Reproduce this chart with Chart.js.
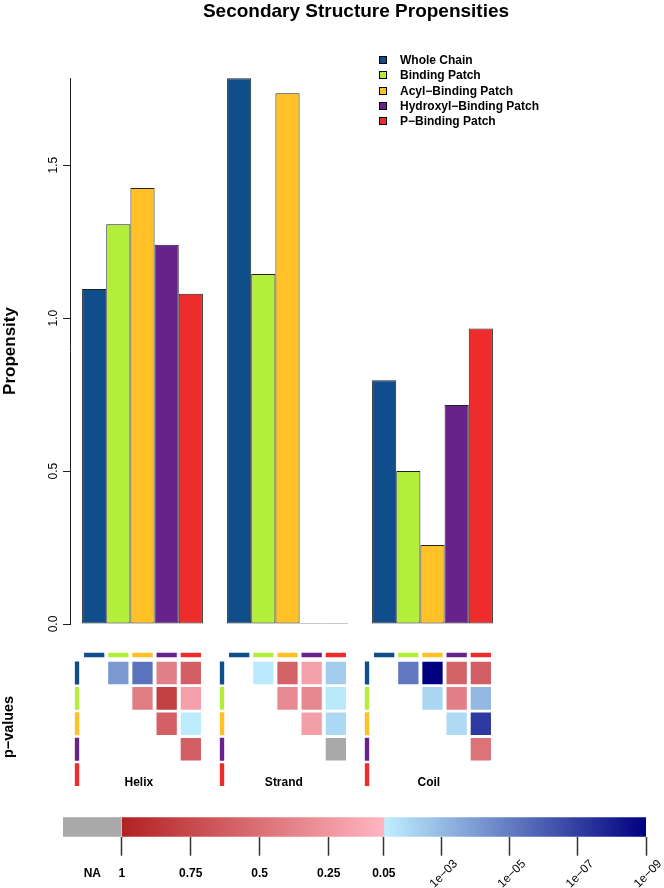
<!DOCTYPE html>
<html>
<head>
<meta charset="utf-8">
<script src="https://cdn.jsdelivr.net/npm/chart.js@4.4.1/dist/chart.umd.min.js"></script>
<style>
  body { margin: 0; background: #fff; }
  #wrap { position: relative; width: 664px; height: 888px; }
  #wrap canvas { position: absolute; left: 0; top: 0; }
</style>
</head>
<body>
<div id="wrap">
  <canvas id="bars" width="664" height="888"></canvas>
  <canvas id="pvals" width="664" height="888"></canvas>
  <canvas id="key" width="664" height="888"></canvas>
</div>
<script>
const groups = ['Helix', 'Strand', 'Coil'];
const seriesNames = ['Whole Chain', 'Binding Patch', 'Acyl\u2212Binding Patch',
    'Hydroxyl\u2212Binding Patch', 'P\u2212Binding Patch'];
const seriesColors = ['#104E8B', '#B3EE3A', '#FFC125', '#68228B', '#EE2C2C'];

// propensity per group (Helix, Strand, Coil)
const wholeChain = [1.095, 1.784, 0.797];
const bindingPatch = [1.307, 1.144, 0.500];
const acylPatch = [1.425, 1.735, 0.258];
const hydroxylPatch = [1.240, 0, 0.716];
const pPatch = [1.080, 0, 0.966];
const yTicks = [0, 0.5, 1.0, 1.5];

// p-values, upper triangle in order (0,1) (0,2) (0,3) (0,4) (1,2) (1,3) (1,4) (2,3) (2,4) (3,4)
const helixP = [8e-5, 4.7e-6, 0.40, 0.61, 0.42, 0.81, 0.19, 0.60, 0.04, 0.61];
const strandP = [0.035, 0.58, 0.19, 0.004, 0.33, 0.345, 0.03, 0.20, 0.009, null];
const coilP = [7.4e-6, 1e-9, 0.58, 0.61, 0.0078, 0.40, 8.5e-4, 0.0105, 7.4e-8, 0.48];

// colour key ticks
const redTicks = [1, 0.75, 0.5, 0.25, 0.05];
const blueTicks = [1e-3, 1e-5, 1e-7, 1e-9];
const blueLabels = ['1e\u221203', '1e\u221205', '1e\u221207', '1e\u221209'];

const FONT = '"Liberation Sans", Arial, Helvetica, sans-serif';
Chart.defaults.font.family = FONT;
Chart.defaults.color = '#000';

const FIRE = [178, 34, 34], PINK = [255, 182, 193], LIGHT = [191, 239, 255], NAVY = [0, 0, 128];
const LOG05 = Math.log10(0.05);

// 0..1 = red half (linear in p), 1..2 = blue half (log p)
function keyPos(p) {
    if (p >= 0.05) return (1 - p) / 0.95;
    return 1 + Math.min(1, (LOG05 - Math.log10(p)) / (LOG05 + 9));
}
function mix(a, b, t) {
    return 'rgb(' + a.map((v, k) => Math.round(v + (b[k] - v) * t)).join(',') + ')';
}
function pColor(p) {
    if (p === null) return '#A9A9A9';
    const s = keyPos(p);
    return s <= 1 ? mix(FIRE, PINK, s) : mix(LIGHT, NAVY, s - 1);
}

// ---------- bar chart ----------
const barPlugin = {
    id: 'barText',
    afterDraw(chart) {
        const ctx = chart.ctx;
        ctx.save();
        ctx.fillStyle = '#000';
        ctx.textBaseline = 'middle';
        ctx.textAlign = 'center';
        ctx.font = 'bold 19px ' + FONT;
        ctx.fillText('Secondary Structure Propensities', 356, 12);
        ctx.font = 'bold 12px ' + FONT;
        ctx.textAlign = 'left';
        chart.data.datasets.forEach((ds, k) => {
            const y = Math.round(60 + k * 15.3);
            ctx.fillStyle = ds.backgroundColor;
            ctx.fillRect(379, y - 4, 8, 8);
            ctx.strokeStyle = '#000';
            ctx.lineWidth = 1;
            ctx.strokeRect(379.5, y - 3.5, 7, 7);
            ctx.fillStyle = '#000';
            ctx.fillText(ds.label, 400, y + 1);
        });
        ctx.restore();
    }
};

new Chart(document.getElementById('bars'), {
    type: 'bar',
    data: {
        labels: groups,
        datasets: [wholeChain, bindingPatch, acylPatch, hydroxylPatch, pPatch].map((vals, k) => ({
            label: seriesNames[k],
            data: vals,
            backgroundColor: seriesColors[k],
            borderColor: '#222',
            borderWidth: 1,
            borderSkipped: false,
            minBarLength: 1,
            categoryPercentage: 5 / 6,
            barPercentage: 1
        }))
    },
    options: {
        responsive: false,
        animation: false,
        layout: { padding: { left: 0, right: 159, top: 78, bottom: 264 } },
        plugins: { legend: { display: false }, tooltip: { enabled: false } },
        scales: {
            x: { display: false },
            y: {
                min: 0,
                max: 1.785,
                afterFit: s => { s.width = 70; },
                afterBuildTicks: s => { s.ticks = yTicks.map(v => ({ value: v })); },
                border: { display: true, color: '#222' },
                grid: { drawOnChartArea: false, tickLength: 7, tickColor: '#222' },
                ticks: {
                    callback: v => v.toFixed(1),
                    minRotation: 90, maxRotation: 90,
                    crossAlign: 'center', padding: 1,
                    font: { size: 12 }, color: '#000'
                },
                title: {
                    display: true, text: 'Propensity', padding: 0,
                    font: { size: 17, weight: 'bold' }, color: '#000'
                }
            }
        }
    },
    plugins: [barPlugin]
});

// ---------- p-value matrices ----------
const pairs = [];
for (let i = 0; i < 5; i++) for (let j = i + 1; j < 5; j++) pairs.push([i, j]);

const cellData = [], cellColors = [];
[helixP, strandP, coilP].forEach((tab, g) => {
    pairs.forEach(([i, j], n) => {
        cellData.push({ x: 6 * g + j + 1, y: [i - 0.445, i + 0.445] });
        cellColors.push(pColor(tab[n]));
    });
});
const headData = [], headColors = [], rowData = [], rowColors = [];
groups.forEach((name, g) => {
    for (let k = 0; k < 5; k++) {
        headData.push({ x: 6 * g + k + 1, y: [-0.8, -0.62] });
        headColors.push(seriesColors[k]);
        rowData.push({ x: 6 * g + 0.29, y: [k - 0.45, k + 0.45] });
        rowColors.push(seriesColors[k]);
    }
});

const matrixPlugin = {
    id: 'matrixText',
    afterDraw(chart) {
        const ctx = chart.ctx;
        const { x, y } = chart.scales;
        ctx.save();
        ctx.fillStyle = '#000';
        ctx.textAlign = 'center';
        ctx.textBaseline = 'middle';
        ctx.font = 'bold 12px ' + FONT;
        groups.forEach((name, g) => {
            ctx.fillText(name, x.getPixelForValue(6 * g + 2.85), y.getPixelForValue(4.3));
        });
        ctx.font = 'bold 14.4px ' + FONT;
        ctx.translate(9.5, 727);
        ctx.rotate(-Math.PI / 2);
        ctx.fillText('p\u2212values', 0, 0);
        ctx.restore();
    }
};

new Chart(document.getElementById('pvals'), {
    type: 'bar',
    data: {
        datasets: [
            { data: cellData, backgroundColor: cellColors, barPercentage: 0.84 },
            { data: headData, backgroundColor: headColors, barPercentage: 0.84 },
            { data: rowData, backgroundColor: rowColors, barPercentage: 0.03, xAxisID: 'x2' }
        ]
    },
    options: {
        responsive: false,
        animation: false,
        datasets: { bar: { grouped: false, categoryPercentage: 1, borderWidth: 0 } },
        layout: { padding: { left: 70, right: 159, top: 647.6, bottom: 88 } },
        plugins: { legend: { display: false }, tooltip: { enabled: false } },
        scales: {
            x: { type: 'linear', min: 0, max: 18, offset: false, display: false, ticks: { stepSize: 1 } },
            x2: { type: 'linear', axis: 'x', min: 0, max: 18, offset: false, display: false, ticks: { stepSize: 6 } },
            y: { type: 'linear', min: -1, max: 5, reverse: true, display: false }
        }
    },
    plugins: [matrixPlugin]
});

// ---------- colour key ----------
function ramp(chart, from, to, a, b) {
    const x = chart.scales.x;
    if (!chart.chartArea || !x) return mix(from, to, 0.5);
    const grad = chart.ctx.createLinearGradient(x.getPixelForValue(a), 0, x.getPixelForValue(b), 0);
    grad.addColorStop(0, mix(from, to, 0));
    grad.addColorStop(1, mix(from, to, 1));
    return grad;
}

const keyTicks = redTicks.concat(blueTicks);
const NA_W = 0.224;

const keyPlugin = {
    id: 'keyText',
    afterDraw(chart) {
        const ctx = chart.ctx;
        const x = chart.scales.x;
        ctx.save();
        ctx.fillStyle = '#000';
        ctx.textBaseline = 'middle';
        ctx.textAlign = 'center';
        ctx.font = 'bold 12px ' + FONT;
        ctx.fillText('NA', x.getPixelForValue(-NA_W / 2), 874);
        redTicks.forEach(p => ctx.fillText(String(p), x.getPixelForValue(keyPos(p)), 874));
        ctx.font = '12px ' + FONT;
        ctx.textAlign = 'right';
        blueTicks.forEach((p, k) => {
            ctx.save();
            ctx.translate(x.getPixelForValue(keyPos(p)) + 14, 862);
            ctx.rotate(-Math.PI / 4);
            ctx.fillText(blueLabels[k], 0, 0);
            ctx.restore();
        });
        ctx.restore();
    }
};

new Chart(document.getElementById('key'), {
    type: 'bar',
    data: {
        labels: [''],
        datasets: [
            { data: [[-NA_W, 0]], backgroundColor: '#A9A9A9' },
            { data: [[0, 1]], backgroundColor: c => ramp(c.chart, FIRE, PINK, 0, 1) },
            { data: [[1, 2]], backgroundColor: c => ramp(c.chart, LIGHT, NAVY, 1, 2) }
        ]
    },
    options: {
        indexAxis: 'y',
        responsive: false,
        animation: false,
        datasets: { bar: { grouped: false, categoryPercentage: 1, barPercentage: 1, borderWidth: 0 } },
        layout: { padding: { left: 63, right: 18, top: 817.3, bottom: 32.3 } },
        plugins: { legend: { display: false }, tooltip: { enabled: false } },
        scales: {
            y: { display: false },
            x: {
                type: 'linear',
                min: -NA_W,
                max: 2,
                afterBuildTicks: s => { s.ticks = keyTicks.map(p => ({ value: keyPos(p) })); },
                border: { display: false },
                grid: { drawOnChartArea: false, tickLength: 19, tickColor: '#333', tickWidth: 1.5 },
                ticks: { display: false }
            }
        }
    },
    plugins: [keyPlugin]
});
</script>
</body>
</html>
